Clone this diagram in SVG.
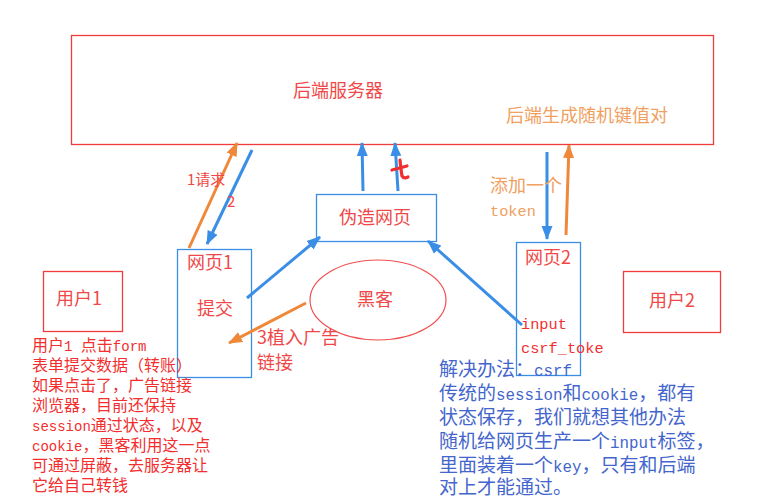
<svg xmlns="http://www.w3.org/2000/svg" width="764" height="498" viewBox="0 0 764 498">
<style>
.rbox{fill:#fff;stroke:#F03C3C;stroke-width:1.3}
.bbox{fill:none;stroke:#3A8EE6;stroke-width:1.3}
.cjk{font-family:"Noto Sans CJK SC","Noto Sans",sans-serif}
.lbl{font-size:18px;fill:#F04848}
.mono{font-family:"Liberation Mono","DejaVu Sans Mono",monospace}
.blue{stroke:#3A8EE6;stroke-width:3;fill:none}
.orange{stroke:#F0883A;stroke-width:3;fill:none}
.redtxt{font-size:16px;fill:#F22E2E}
.bluetxt{font-size:19px;fill:#4466CC}
.orgtxt{fill:#F0A060}
</style>
<defs>
<marker id="ab" markerUnits="userSpaceOnUse" markerWidth="14" markerHeight="12" refX="13" refY="5.5" orient="auto" viewBox="0 0 14 11">
<path d="M0,0 L14,5.5 L0,11 z" fill="#3A8EE6"/>
</marker>
<marker id="ao" markerUnits="userSpaceOnUse" markerWidth="14" markerHeight="12" refX="13" refY="5.5" orient="auto" viewBox="0 0 14 11">
<path d="M0,0 L14,5.5 L0,11 z" fill="#F0883A"/>
</marker>
</defs>
<rect width="764" height="498" fill="#fff"/>

<g id="server">
<rect class="rbox" x="71.5" y="35.5" width="642" height="109"/>
<text class="cjk lbl" x="338" y="97" text-anchor="middle">后端服务器</text>
<text class="cjk orgtxt" font-size="18" x="506" y="122">后端生成随机键值对</text>
</g>

<g id="user1">
<rect class="rbox" x="43.5" y="271.5" width="79" height="60"/>
<text class="cjk lbl" x="79" y="305" text-anchor="middle">用户1</text>
</g>

<g id="user2">
<rect class="rbox" x="623.5" y="271.5" width="97" height="61"/>
<text class="cjk lbl" x="672" y="307" text-anchor="middle">用户2</text>
</g>

<g id="page1">
<rect class="bbox" x="177.5" y="249.5" width="74" height="128"/>
<text class="cjk lbl" x="187" y="269">网页1</text>
<text class="cjk lbl" x="197" y="315">提交</text>
</g>

<g id="fakepage">
<rect class="bbox" x="316.5" y="194.5" width="120" height="47"/>
<text class="cjk lbl" x="375" y="224" text-anchor="middle">伪造网页</text>
</g>

<g id="page2">
<rect class="bbox" x="516.5" y="242.5" width="64" height="133"/>
<text class="cjk lbl" x="525" y="264">网页2</text>
<text class="mono" font-size="15.3" fill="#F03030" x="521" y="329">input</text>
<text class="mono" font-size="15.3" fill="#F03030" x="521" y="353">csrf_toke</text>
</g>

<g id="hacker">
<ellipse cx="378" cy="300" rx="68" ry="40" fill="none" stroke="#F05050" stroke-width="1.2"/>
<text class="cjk lbl" x="375" y="306" text-anchor="middle">黑客</text>
</g>

<g id="connectors">
<line class="orange" x1="189" y1="248" x2="237" y2="143" marker-end="url(#ao)"/>
<line class="blue" x1="252" y1="150" x2="207" y2="244" stroke-width="2.5" marker-end="url(#ab)"/>
<line class="blue" x1="363" y1="191" x2="362" y2="143" marker-end="url(#ab)"/>
<line class="blue" x1="398" y1="191" x2="395" y2="143" marker-end="url(#ab)"/>
<line class="blue" x1="247" y1="298" x2="320" y2="237" marker-end="url(#ab)"/>
<line class="blue" x1="522" y1="325" x2="428" y2="241" marker-end="url(#ab)"/>
<line class="orange" x1="306" y1="303" x2="229" y2="343" marker-end="url(#ao)"/>
<line class="blue" x1="547" y1="152" x2="547" y2="239" marker-end="url(#ab)"/>
<line class="orange" x1="566" y1="235" x2="569" y2="145" marker-end="url(#ao)"/>
</g>

<g id="scribble" stroke="#F03030" stroke-width="3.2" fill="none" stroke-linecap="round">
<path d="M392,170 L407,166"/>
<path d="M400,160 Q401,170 402,176 Q404,179 408,177"/>
</g>

<g id="labels" class="cjk">
<text x="187" y="185" font-size="15" fill="#F04848">1请求</text>
<text x="227" y="207" font-size="15" fill="#F04848">2</text>
<text x="257" y="344" class="lbl">3植入广告</text>
<text x="257" y="369" class="lbl">链接</text>
<text x="490" y="192" font-size="18" class="orgtxt">添加一个</text>
<text x="490" y="216" font-size="15.3" class="mono orgtxt">token</text>
</g>

<g id="note-left" class="cjk redtxt">
<text x="32" y="351">用户<tspan class="mono" font-size="14">1 </tspan>点击<tspan class="mono" font-size="14">form</tspan></text>
<text x="32" y="371">表单提交数据（转账）</text>
<text x="32" y="391">如果点击了，广告链接</text>
<text x="32" y="411">浏览器，目前还保持</text>
<text x="32" y="431"><tspan class="mono" font-size="14">session</tspan>通过状态，以及</text>
<text x="32" y="451"><tspan class="mono" font-size="14">cookie</tspan>，黑客利用这一点</text>
<text x="32" y="471">可通过屏蔽，去服务器让</text>
<text x="32" y="491">它给自己转钱</text>
</g>

<g id="note-right" class="cjk bluetxt">
<text x="439" y="376">解决办法：<tspan class="mono" font-size="15.8">csrf</tspan></text>
<text x="439" y="400">传统的<tspan class="mono" font-size="15.8">session</tspan>和<tspan class="mono" font-size="15.8">cookie</tspan>，都有</text>
<text x="439" y="424">状态保存，我们就想其他办法</text>
<text x="439" y="448">随机给网页生产一个<tspan class="mono" font-size="15.8">input</tspan>标签，</text>
<text x="439" y="472">里面装着一个<tspan class="mono" font-size="15.8">key</tspan>，只有和后端</text>
<text x="439" y="494">对上才能通过。</text>
</g>
</svg>
